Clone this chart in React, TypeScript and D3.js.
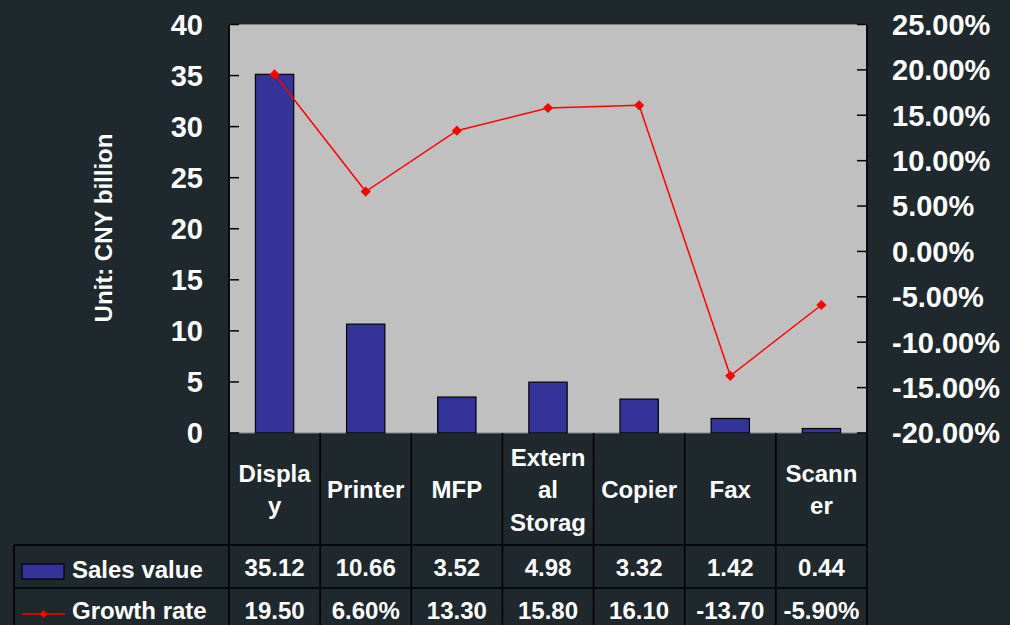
import * as d3 from "d3";

const categories = ["Display", "Printer", "MFP", "External Storage", "Copier", "Fax", "Scanner"];
// how the category cells wrap in the table header
const headerLines = [["Displa", "y"], ["Printer"], ["MFP"], ["Extern", "al", "Storag"], ["Copier"], ["Fax"], ["Scann", "er"]];
const salesValue = [35.12, 10.66, 3.52, 4.98, 3.32, 1.42, 0.44];
const growthRate = [19.5, 6.6, 13.3, 15.8, 16.1, -13.7, -5.9];
// growth row text as it shows in the (narrow) table cells
const growthLabels = ["19.50", "6.60%", "13.30", "15.80", "16.10", "-13.70", "-5.90%"];
const leftTicks = [0, 5, 10, 15, 20, 25, 30, 35, 40];
const rightTicks = [-20, -15, -10, -5, 0, 5, 10, 15, 20, 25];

const W = 1010, H = 625;
const bg = "#1f282d";
const barColor = "#333399";
const font = "'Liberation Sans', Arial, sans-serif";

function App() {
  const left = 229, right = 867, top = 24.5, bottom = 433;
  const legendX = 14;
  const rowTop = [433, 545, 588, 631];

  const x = d3.scaleBand().domain(categories).range([left, right]).padding(0);
  const yL = d3.scaleLinear().domain([0, 40]).range([bottom, top]);
  const yR = d3.scaleLinear().domain([-20, 25]).range([bottom, top]);
  const barW = x.bandwidth() * 0.42;
  const cx = (c) => (x(c) as number) + x.bandwidth() / 2;

  const line = d3.line<number>()
    .x((_, i) => cx(categories[i]))
    .y((d) => yR(d));
  const diamond = d3.symbol(d3.symbolSquare, 52)();
  const smallDiamond = d3.symbol(d3.symbolSquare, 32)();
  // excel style: plain hyphen for negatives
  const fmt = (v: number) => v.toFixed(2);

  return (
    <svg width={W} height={H} style={{ position: "absolute", left: 0, top: 0 }} fontFamily={font} fontWeight="bold">
      <rect width={W} height={H} fill={bg} />
      <rect x={left} y={top} width={right - left} height={bottom - top} fill="#c0c0c0" stroke="#808080" strokeWidth={1} />

      {/* bars */}
      {categories.map((c, i) => (
        <rect key={c} x={cx(c) - barW / 2} y={yL(salesValue[i])} width={barW} height={bottom - yL(salesValue[i])}
          fill={barColor} stroke="#000" strokeWidth={1.2} />
      ))}

      {/* growth line */}
      <path d={line(growthRate) as string} fill="none" stroke="#ff0000" strokeWidth={1.5} />
      {growthRate.map((g, i) => (
        <path key={i} d={diamond as string} fill="#ff0000" transform={`translate(${cx(categories[i])},${yR(g)}) rotate(45)`} />
      ))}

      {/* left axis */}
      <line x1={left} x2={left} y1={top} y2={bottom} stroke="#000" strokeWidth={1.8} />
      {leftTicks.map((t) => (
        <g key={t}>
          <line x1={left} x2={left + 10} y1={yL(t)} y2={yL(t)} stroke="#000" strokeWidth={1.5} />
          <text x={203} y={yL(t)} dy="0.36em" textAnchor="end" fill="#fff" fontSize={29}>{t}</text>
        </g>
      ))}

      {/* right axis */}
      <line x1={right} x2={right} y1={top} y2={bottom} stroke="#000" strokeWidth={1.8} />
      {rightTicks.map((t) => (
        <g key={t}>
          <line x1={right - 10} x2={right} y1={yR(t)} y2={yR(t)} stroke="#000" strokeWidth={1.5} />
          <text x={892} y={yR(t)} dy="0.36em" fill="#fff" fontSize={29}>{fmt(t) + "%"}</text>
        </g>
      ))}

      <text transform={`translate(112,228) rotate(-90)`} textAnchor="middle" fill="#fff" fontSize={24}>Unit: CNY billion</text>

      {/* data table */}
      <line x1={left} x2={left} y1={bottom} y2={H} stroke="#000" strokeWidth={1.5} />
      {categories.map((c) => (
        <line key={c} x1={(x(c) as number) + x.bandwidth()} x2={(x(c) as number) + x.bandwidth()} y1={bottom} y2={H} stroke="#000" strokeWidth={1.5} />
      ))}
      <line x1={legendX} x2={legendX} y1={rowTop[1]} y2={H} stroke="#000" strokeWidth={1.5} />
      {rowTop.slice(1).map((r) => (
        <line key={r} x1={legendX} x2={right} y1={r} y2={r} stroke="#000" strokeWidth={1.5} />
      ))}

      {categories.map((c, i) => {
        const lines = headerLines[i];
        const mid = (rowTop[0] + rowTop[1]) / 2;
        const first = mid + 9 - (lines.length - 1) * 16.25;
        return (
          <text key={c} x={cx(c)} textAnchor="middle" fill="#fff" fontSize={24}>
            {lines.map((l, j) => (
              <tspan key={j} x={cx(c)} y={first + j * 32.5}>{l}</tspan>
            ))}
          </text>
        );
      })}

      {categories.map((c, i) => (
        <text key={c} x={cx(c)} y={(rowTop[1] + rowTop[2]) / 2 + 9} textAnchor="middle" fill="#fff" fontSize={24}>{fmt(salesValue[i])}</text>
      ))}
      {categories.map((c, i) => (
        <text key={c} x={cx(c)} y={(rowTop[2] + rowTop[3]) / 2 + 9} textAnchor="middle" fill="#fff" fontSize={24}>{growthLabels[i]}</text>
      ))}

      {/* legend keys */}
      <rect x={22} y={564} width={42} height={15} fill={barColor} stroke="#000" strokeWidth={1.2} />
      <text x={72} y={578} fill="#fff" fontSize={24}>Sales value</text>
      <line x1={22} x2={65} y1={614} y2={614} stroke="#ff0000" strokeWidth={1.5} />
      <path d={smallDiamond as string} fill="#ff0000" transform="translate(43.5,614) rotate(45)" />
      <text x={72} y={619} fill="#fff" fontSize={24}>Growth rate</text>
    </svg>
  );
}

export default App;
